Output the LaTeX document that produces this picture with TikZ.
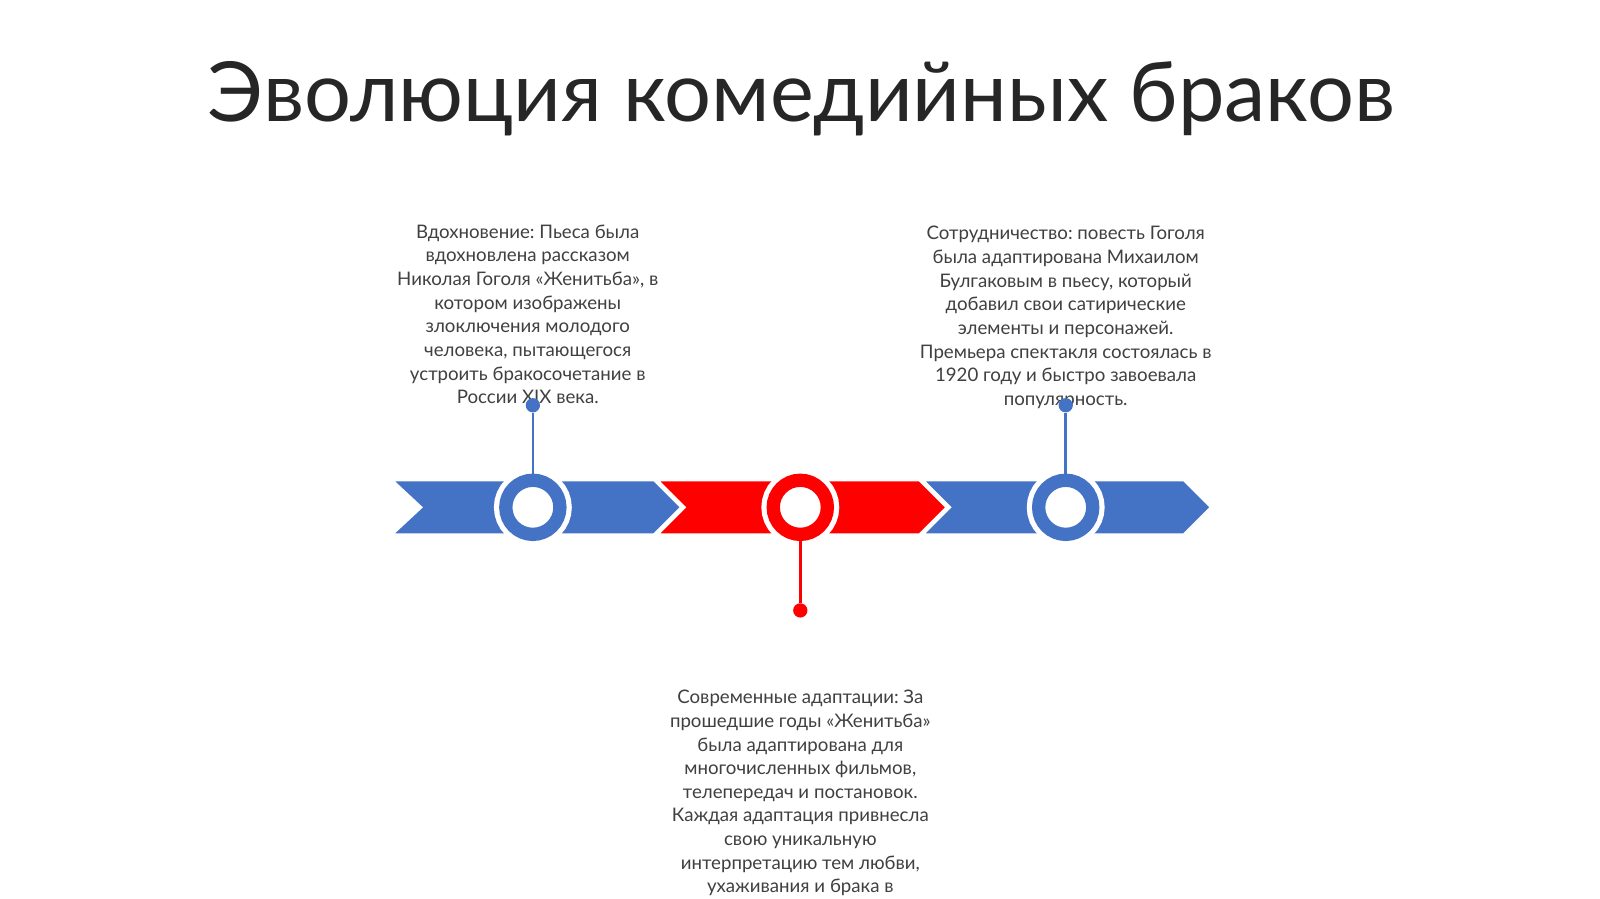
\documentclass[tikz,border=0pt]{standalone}
\usepackage{fontspec}
\setmainfont{Lato}
\frenchspacing
\definecolor{tlblue}{HTML}{4472C4}
\definecolor{tlred}{HTML}{FF0000}
\definecolor{tltext}{HTML}{404040}
\definecolor{tltitle}{HTML}{262626}
\tikzset{
  note/.style={align=center,text=tltext,inner sep=0pt,
    font=\fontsize{5.2pt}{6.59pt}\selectfont},
  ring/.style={circle,draw=#1,fill=white,line width=3.7pt,
    minimum size=0.53cm,inner sep=0pt,
    preaction={draw=white,line width=6.6pt}},
  dot/.style={circle,fill=#1,minimum size=0.14cm,inner sep=0pt},
  band/.style={fill=#1,draw=white,line width=0.9pt,line join=miter}
}
\begin{document}
\begin{tikzpicture}[x=0.01cm,y=-0.01cm]
  \useasboundingbox[fill=white] (0,0) rectangle (1567.4,880.6);

  \node (title) at (785,97) [text=tltitle,font=\fontsize{23.1pt}{28pt}\selectfont]
    {Эволюция комедийных браков};

  % chevrons
  \path[band=tlblue] (383,470) -- (641,470) -- (668,497) -- (641,524) -- (383,524) -- (412,497) -- cycle;
  \path[band=tlred]  (643,470) -- (901,470) -- (928,497) -- (901,524) -- (643,524) -- (670,497) -- cycle;
  \path[band=tlblue] (903,470) -- (1160,470) -- (1187,497) -- (1160,524) -- (903,524) -- (930,497) -- cycle;

  % texts
  \begin{scope}[every node/.style={note}]
    \node (t1) at (517,308) {Вдохновение: Пьеса была\\вдохновлена рассказом\\Николая Гоголя «Женитьба», в\\котором изображены\\злоключения молодого\\человека, пытающегося\\устроить бракосочетание в\\России XIX века.};
    \node (t2) at (784,777) {Современные адаптации: За\\прошедшие годы «Женитьба»\\была адаптирована для\\многочисленных фильмов,\\телепередач и постановок.\\Каждая адаптация привнесла\\свою уникальную\\интерпретацию тем любви,\\ухаживания и брака в};
    \node (t3) at (1044,311) {Сотрудничество: повесть Гоголя\\была адаптирована Михаилом\\Булгаковым в пьесу, который\\добавил свои сатирические\\элементы и персонажей.\\Премьера спектакля состоялась в\\1920 году и быстро завоевала\\популярность.};
  \end{scope}

  % milestones
  \node[ring=tlblue] (r1) at (522,497) {};
  \node[ring=tlred]  (r2) at (784,497) {};
  \node[ring=tlblue] (r3) at (1044,497) {};

  \node[dot=tlblue] (d1) at (522,397) {};
  \node[dot=tlred]  (d2) at (784,598) {};
  \node[dot=tlblue] (d3) at (1044,397) {};

  \draw[tlblue,line width=0.75pt] (r1) -- (d1);
  \draw[tlred,line width=0.75pt]  (r2) -- (d2);
  \draw[tlblue,line width=0.75pt] (r3) -- (d3);

\end{tikzpicture}
\end{document}
